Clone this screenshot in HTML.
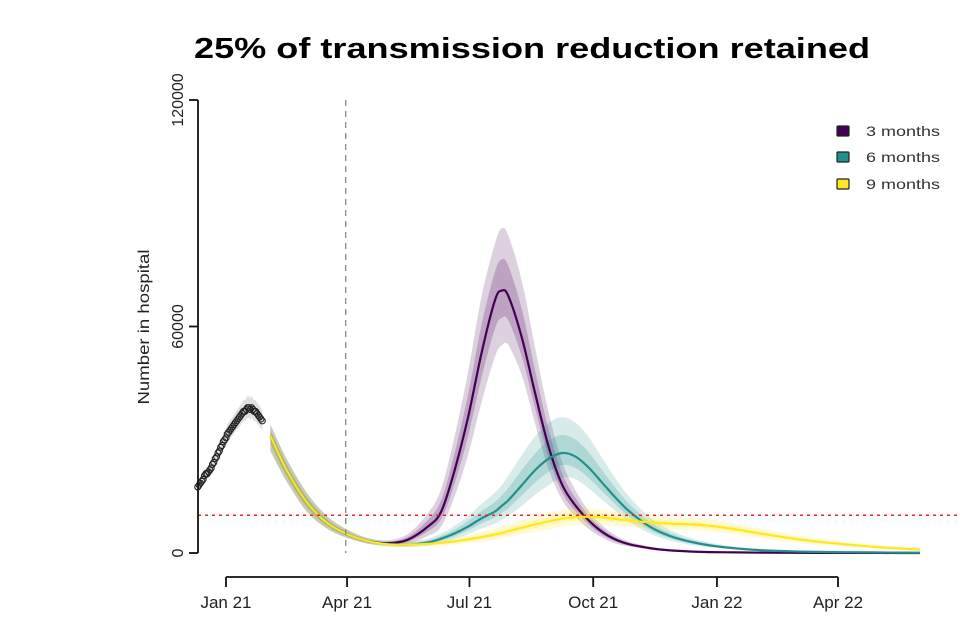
<!DOCTYPE html>
<html><head><meta charset="utf-8"><style>
body{margin:0;background:#fff;}
svg{display:block;font-family:"Liberation Sans",Arial,sans-serif;}
</style></head><body>
<svg id="chart" width="960" height="640" viewBox="0 0 960 640" xmlns="http://www.w3.org/2000/svg">
<text x="532" y="58" text-anchor="middle" font-size="29" font-weight="bold" fill="#000" textLength="676" lengthAdjust="spacingAndGlyphs">25% of transmission reduction retained</text>
<g id="plot"></g>
<g id="axes"></g>
<g id="legend"></g>
</svg>
<script>
// ---------- data ----------
const xTickDays = [0, 90, 181, 273, 365, 455];
const xTickLabels = ["Jan 21", "Apr 21", "Jul 21", "Oct 21", "Jan 22", "Apr 22"];
const yTicks = [0, 60000, 120000];
const thresholdValue = 10000;
const interventionDay = 89;

const obsDays = [-21,-20,-19,-18,-17,-16,-15,-14,-13,-12,-11,-10,-9,-8,-7,-6,-5,-4,-3,-2,-1,0,1,2,3,4,5,6,7,8,9,10,11,12,13,14,15,16,17,18,19,20,21,22,23,24,25,26,27];
const obsValues = [17500,18000,18500,19000,19500,20500,21000,21000,21500,22000,22500,23500,24000,25000,25500,26500,27000,28000,28500,29500,30000,30500,31500,32000,32500,33000,33500,34000,34500,35000,35500,36000,36500,37000,37500,37500,38000,38500,38500,38000,38500,38000,37500,37500,37000,36500,36000,35500,35000];

const projDays = [33,45,60,75,90,105,120,135,150,160,170,180,190,200,205,210,220,230,240,250,260,270,280,290,300,315,330,345,360,380,400,420,440,460,480,500,516];

const m3Mid = [31000,22000,13500,8000,5000,3200,2600,3500,7000,11000,22000,36000,53000,67000,69500,68000,57000,42000,28000,18000,12500,8500,5500,3500,2300,1300,700,400,250,150,80,50,30,20,15,10,10];
const m3Hi  = [34000,25000,16000,9800,6200,4000,3400,5000,10500,17000,31000,48000,68000,82000,86000,84000,72000,54000,37000,24000,16500,11000,7200,4600,3000,1700,900,500,300,180,100,60,40,25,20,15,12];
const m3Lo  = [27000,19000,11000,6500,4000,2500,2000,2400,4500,7000,15000,26000,40000,52000,55000,55000,47000,34000,22000,14000,9500,6300,4000,2500,1700,900,500,300,180,100,60,40,20,15,10,8,8];

const m6Mid = [31000,22000,13500,8000,5000,3200,2400,2200,2800,3800,5200,7000,9200,11000,12500,14000,18000,22000,25000,26500,25500,22500,18500,14500,11000,7000,4500,3000,2000,1200,700,450,300,200,150,100,80];
const m6Hi  = [34000,25000,16000,9800,6200,4000,3100,3000,3800,5200,7200,9800,13000,16000,18000,20500,26000,31000,34500,36000,34500,30500,25000,19500,14800,9500,6100,4000,2700,1600,950,600,400,270,200,140,110];
const m6Lo  = [27000,19000,11000,6500,4000,2500,1800,1600,2000,2700,3700,5000,6500,7800,8800,9800,12500,15500,18000,20000,19500,17000,14000,11000,8200,5200,3300,2200,1500,900,500,330,220,150,110,75,60];

const m9Mid = [31000,22000,13500,8000,5000,3200,2300,2200,2400,2700,3100,3600,4200,4900,5300,5800,6700,7600,8400,9100,9500,9600,9400,9000,8600,8100,7800,7600,7200,6200,5000,3900,3000,2300,1700,1200,900];
const m9Hi  = [34000,25000,16000,9800,6200,4000,3000,2900,3200,3600,4100,4800,5600,6500,7000,7600,8700,9800,10700,11400,11800,11800,11500,11000,10500,9900,9500,9300,8800,7700,6300,5000,3900,3000,2300,1700,1300];
const m9Lo  = [27000,19000,11000,6500,4000,2500,1700,1600,1700,1900,2200,2600,3000,3500,3800,4200,4900,5600,6300,7000,7400,7600,7500,7200,6900,6500,6200,6000,5700,4800,3800,2900,2200,1700,1200,850,600];

// ---------- scales ----------
const X0 = 226, PXD = (838 - 226) / 455;
const xs = d => X0 + d * PXD;
const Y0 = 553, PXV = 453 / 120000;
const ys = v => Y0 - v * PXV;
const NS = "http://www.w3.org/2000/svg";
function mk(tag, attrs, parent) { const e = document.createElementNS(NS, tag); for (const k in attrs) e.setAttribute(k, attrs[k]); parent.appendChild(e); return e; }
function smooth(pts) {
  let d = "M" + pts[0][0].toFixed(1) + "," + pts[0][1].toFixed(1);
  for (let i = 0; i < pts.length - 1; i++) {
    const p0 = pts[Math.max(0, i - 1)], p1 = pts[i], p2 = pts[i + 1], p3 = pts[Math.min(pts.length - 1, i + 2)];
    const c1 = [p1[0] + (p2[0] - p0[0]) / 6, p1[1] + (p2[1] - p0[1]) / 6];
    const c2 = [p2[0] - (p3[0] - p1[0]) / 6, p2[1] - (p3[1] - p1[1]) / 6];
    d += "C" + c1[0].toFixed(1) + "," + c1[1].toFixed(1) + " " + c2[0].toFixed(1) + "," + c2[1].toFixed(1) + " " + p2[0].toFixed(1) + "," + p2[1].toFixed(1);
  }
  return d;
}
function band(days, lo, hi) {
  const up = days.map((d, i) => [xs(d), ys(hi[i])]);
  const dn = days.map((d, i) => [xs(d), ys(lo[i])]).reverse();
  return smooth(up) + smooth(dn).replace(/^M/, "L") + "Z";
}
const plot = document.getElementById("plot");
const axes = document.getElementById("axes");
const legend = document.getElementById("legend");

// observed band + points
const obsHi = obsValues.map(v => v * 1.08), obsLo = obsValues.map(v => v * 0.93);
const ob = mk("path", { d: band(obsDays, obsLo, obsHi), fill: "#bbb", "fill-opacity": "0.45" }, plot);


obsDays.forEach((d, i) => {
  const c = mk("circle", { cx: xs(d), cy: ys(obsValues[i]), r: 3, fill: "none", stroke: "#222", "stroke-width": 1.1 }, plot);
  
  
});

const series = [
  { name: "3-months", color: "#440154", mid: m3Mid, hi: m3Hi, lo: m3Lo },
  { name: "6-months", color: "#21908C", mid: m6Mid, hi: m6Hi, lo: m6Lo },
  { name: "9-months", color: "#FDE725", mid: m9Mid, hi: m9Hi, lo: m9Lo }
];
series.forEach(s => {
  const iHi = s.mid.map((v, i) => (v + s.hi[i]) / 2), iLo = s.mid.map((v, i) => (v + s.lo[i]) / 2);
  const o = mk("path", { d: band(projDays, s.lo, s.hi), fill: s.color, "fill-opacity": "0.18" }, plot);
  
  
  const n = mk("path", { d: band(projDays, iLo, iHi), fill: s.color, "fill-opacity": "0.22" }, plot);
  
  
});
series.forEach(s => {
  const l = mk("path", { d: smooth(projDays.map((d, i) => [xs(d), ys(s.mid[i])])), fill: "none", stroke: s.color, "stroke-width": 2.2 }, plot);
  
  
});

// reference lines
const th = mk("line", { x1: 198, x2: 960, y1: ys(thresholdValue), y2: ys(thresholdValue), stroke: "#e8262a", "stroke-width": 1.6, "stroke-dasharray": "3,4" }, plot);


const vl = mk("line", { x1: xs(interventionDay), x2: xs(interventionDay), y1: 100, y2: 553, stroke: "#888", "stroke-width": 1.3, "stroke-dasharray": "6,5" }, plot);



// y axis
const ya = mk("line", { x1: 198, x2: 198, y1: ys(120000), y2: ys(0), stroke: "#111", "stroke-width": 1.8 }, axes);


yTicks.forEach(v => {
  const t = mk("line", { x1: 189, x2: 198, y1: ys(v), y2: ys(v), stroke: "#111", "stroke-width": 1.8 }, axes);
  
  
  const tx = mk("text", { x: 0, y: 0, transform: "translate(183," + ys(v) + ") rotate(-90)", "text-anchor": "middle", "font-size": 16, fill: "#222" }, axes);
  tx.textContent = String(v);
  
  
});
const yl = mk("text", { transform: "translate(149,327) rotate(-90)", "text-anchor": "middle", "font-size": 16, fill: "#222", textLength: 155, lengthAdjust: "spacingAndGlyphs" }, axes);
yl.textContent = "Number in hospital";



// x axis
const xa = mk("line", { x1: xs(xTickDays[0]), x2: xs(xTickDays[xTickDays.length - 1]), y1: 577, y2: 577, stroke: "#111", "stroke-width": 1.8 }, axes);


xTickDays.forEach((d, i) => {
  const t = mk("line", { x1: xs(d), x2: xs(d), y1: 577, y2: 587, stroke: "#111", "stroke-width": 1.8 }, axes);
  
  
  const tx = mk("text", { x: xs(d), y: 608, "text-anchor": "middle", "font-size": 17, fill: "#222" }, axes);
  tx.textContent = xTickLabels[i];
  
  
});

// legend
const legendLabels = ["3 months", "6 months", "9 months"];
const legendY = [131, 157, 184];
series.forEach((s, i) => {
  const r = mk("rect", { x: 837, y: legendY[i] - 5, width: 12, height: 10, fill: s.color, stroke: "#222", "stroke-width": 1.2, rx: 1 }, legend);
  
  
  const tx = mk("text", { x: 866, y: legendY[i] + 5, "font-size": 14, fill: "#333", textLength: 74, lengthAdjust: "spacingAndGlyphs" }, legend);
  tx.textContent = legendLabels[i];
  
  
});
</script>
</body></html>
